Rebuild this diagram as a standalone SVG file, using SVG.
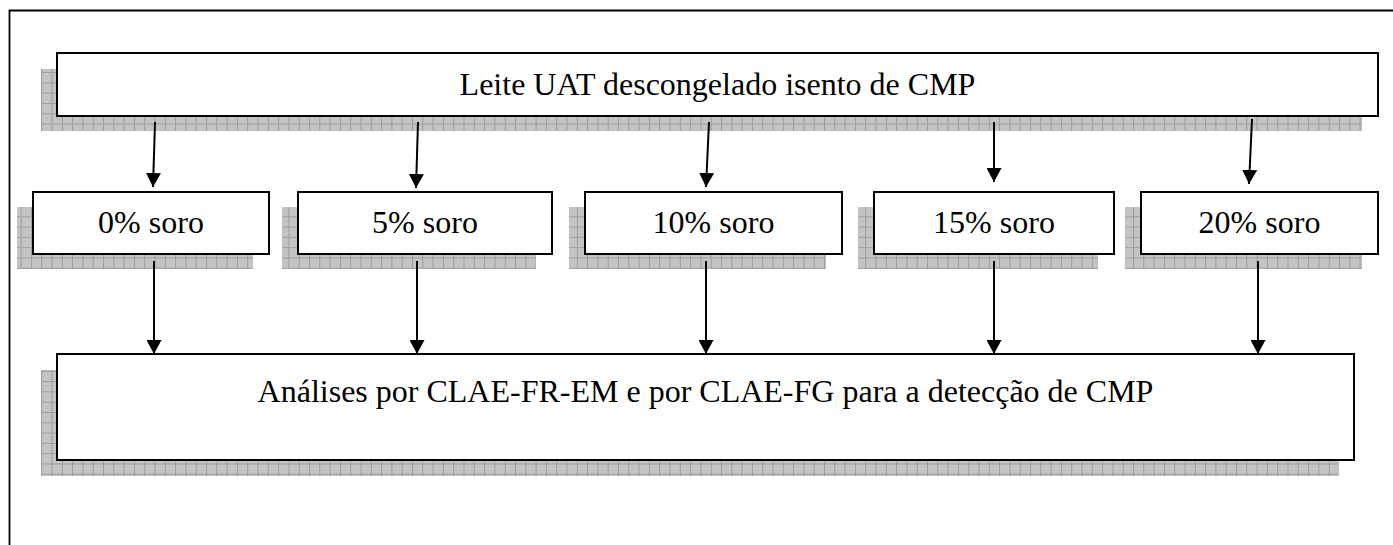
<svg xmlns="http://www.w3.org/2000/svg" width="1393" height="545" viewBox="0 0 1393 545">
<defs>
<pattern id="grid" patternUnits="userSpaceOnUse" width="10.3" height="10.3">
<rect width="10.3" height="10.3" fill="#c4c4c4"/>
<path d="M0 0.5H10.3M0.5 0V10.3" stroke="#9c9c9c" stroke-width="1" fill="none"/>
</pattern>
<marker id="arr" markerUnits="userSpaceOnUse" markerWidth="16" markerHeight="15" refX="14" refY="7.5" orient="auto">
<path d="M0 0L14 7.5L0 15Z" fill="#000"/>
</marker>
</defs>
<style>
.shadow{fill:url(#grid);}
.box{fill:#fff;stroke:#000;stroke-width:2;}
.lbl{font-family:"Liberation Serif","Times New Roman",serif;font-size:32px;fill:#000;text-anchor:middle;}
.conn{stroke:#000;stroke-width:2;fill:none;marker-end:url(#arr);}
</style>
<rect width="1393" height="545" fill="#fff"/>
<path d="M9.5 545V10.5H1393" fill="none" stroke="#000" stroke-width="1.8"/>

<g id="node-top">
<rect class="shadow" x="41" y="69" width="1321" height="62"/>
<rect class="box" x="57" y="53" width="1321" height="63"/>
<text class="lbl" x="717.5" y="95">Leite UAT descongelado isento de CMP</text>
</g>

<g id="node-0">
<rect class="shadow" x="17" y="207" width="236" height="62"/>
<rect class="box" x="33" y="192" width="236" height="62"/>
<text class="lbl" x="151" y="233">0% soro</text>
</g>
<g id="node-5">
<rect class="shadow" x="282" y="207" width="254" height="62"/>
<rect class="box" x="298" y="192" width="254" height="62"/>
<text class="lbl" x="425" y="233">5% soro</text>
</g>
<g id="node-10">
<rect class="shadow" x="569" y="207" width="257" height="62"/>
<rect class="box" x="585" y="192" width="257" height="62"/>
<text class="lbl" x="713.5" y="233">10% soro</text>
</g>
<g id="node-15">
<rect class="shadow" x="858" y="207" width="240" height="62"/>
<rect class="box" x="874" y="192" width="240" height="62"/>
<text class="lbl" x="994" y="233">15% soro</text>
</g>
<g id="node-20">
<rect class="shadow" x="1125" y="207" width="237" height="62"/>
<rect class="box" x="1141" y="192" width="237" height="62"/>
<text class="lbl" x="1259.5" y="233">20% soro</text>
</g>

<g id="node-bottom">
<rect class="shadow" x="41" y="370" width="1298" height="106"/>
<rect class="box" x="57" y="354" width="1297" height="106"/>
<text class="lbl" x="705.5" y="402">Análises por CLAE-FR-EM e por CLAE-FG para a detecção de CMP</text>
</g>

<g id="connectors">
<line class="conn" x1="155" y1="122" x2="153" y2="187"/>
<line class="conn" x1="418" y1="122" x2="416" y2="188"/>
<line class="conn" x1="709" y1="122" x2="706" y2="187"/>
<line class="conn" x1="994" y1="122" x2="994" y2="182"/>
<line class="conn" x1="1252" y1="119" x2="1249" y2="184"/>
<line class="conn" x1="154" y1="261" x2="154" y2="354"/>
<line class="conn" x1="417" y1="261" x2="417" y2="354"/>
<line class="conn" x1="706" y1="261" x2="706" y2="354"/>
<line class="conn" x1="994" y1="261" x2="994" y2="354"/>
<line class="conn" x1="1258" y1="261" x2="1258" y2="354"/>
</g>
</svg>
